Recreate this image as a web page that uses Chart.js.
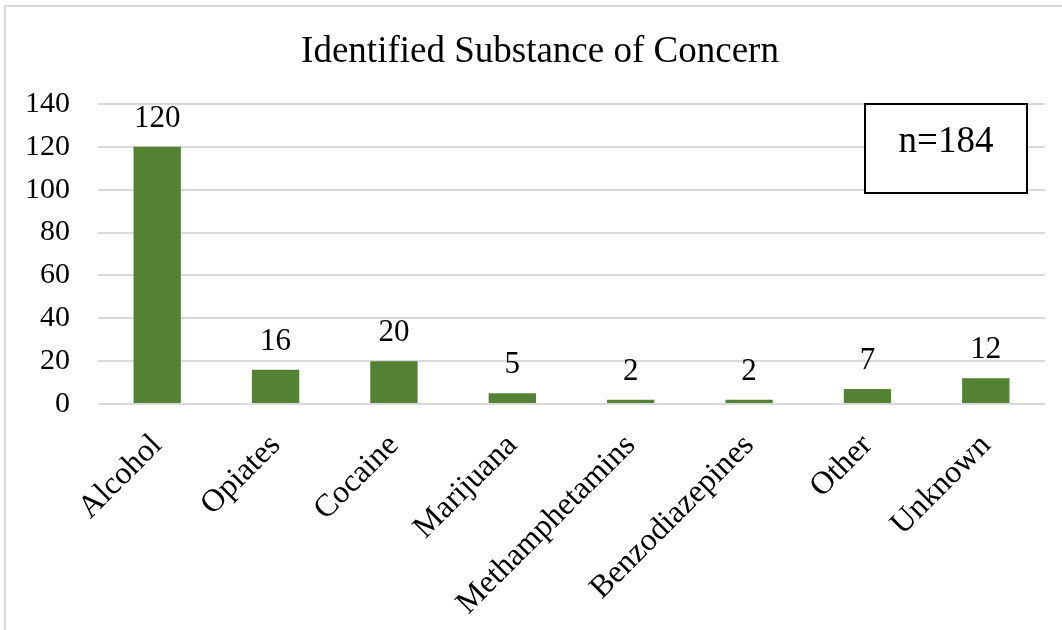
<!DOCTYPE html>
<html>
<head>
<meta charset="utf-8">
<script src="https://cdn.jsdelivr.net/npm/chart.js@4"></script>
<style>
  body { margin: 0; overflow: hidden; background: #fff; }
  #wrap { position: relative; width: 1062px; height: 630px; }
  #frame { position: absolute; left: 4px; top: 5px; width: 1070px; height: 640px; border: 2px solid #d9d9d9; }
</style>
</head>
<body>
<div id="wrap">
  <div id="frame"></div>
  <canvas id="newChart" width="1062" height="630"></canvas>
</div>
<script>
var categories = ['Alcohol', 'Opiates', 'Cocaine', 'Marijuana', 'Methamphetamins', 'Benzodiazepines', 'Other', 'Unknown'];
var substanceCounts = [120, 16, 20, 5, 2, 2, 7, 12];
var yTicks = [0, 20, 40, 60, 80, 100, 120, 140];
var chartTitle = 'Identified Substance of Concern';
var noteText = 'n=184';

var serif = '"Liberation Serif", "Times New Roman", serif';

// draws title, value labels and the n= box
var extrasPlugin = {
  id: 'extras',
  afterDraw: function(chart) {
    var ctx = chart.ctx;
    var area = chart.chartArea;
    ctx.save();
    ctx.fillStyle = '#000';
    // title, centred on the outer frame
    ctx.font = '37px ' + serif;
    ctx.textAlign = 'center';
    ctx.textBaseline = 'alphabetic';
    ctx.fillText(chartTitle, 540, 62);
    // value labels above bars
    ctx.font = '31px ' + serif;
    var meta = chart.getDatasetMeta(0);
    meta.data.forEach(function(bar, i) {
      ctx.fillText(String(substanceCounts[i]), bar.x, bar.y - 20);
    });
    // n box
    var bx = area.right - 180, by = area.top, bw = 162, bh = 89;
    ctx.fillStyle = '#fff';
    ctx.fillRect(bx, by, bw, bh);
    ctx.strokeStyle = '#000';
    ctx.lineWidth = 2;
    ctx.strokeRect(bx, by, bw, bh);
    ctx.fillStyle = '#000';
    ctx.font = '37px ' + serif;
    ctx.fillText(noteText, bx + bw / 2, by + 48);
    ctx.restore();
  }
};

var ctx = document.getElementById('newChart');
var myChart = new Chart(ctx, {
  type: 'bar',
  data: {
    labels: categories,
    datasets: [{
      data: substanceCounts,
      backgroundColor: '#548235',
      barPercentage: 0.4,
      categoryPercentage: 1
    }]
  },
  options: {
    responsive: false,
    animation: false,
    layout: { padding: { top: 104, right: 17, left: 0, bottom: 0 } },
    plugins: {
      legend: { display: false },
      title: { display: false },
      tooltip: { enabled: false }
    },
    scales: {
      x: {
        grid: { display: false },
        border: { display: false },
        ticks: {
          color: '#000',
          font: { family: serif, size: 32 },
          minRotation: 45,
          maxRotation: 45,
          padding: 15
        },
        afterFit: function(scale) { scale.height = 226; }
      },
      y: {
        min: 0,
        max: 140,
        border: { display: false },
        grid: { color: '#d9d9d9', lineWidth: 2, drawTicks: false },
        afterBuildTicks: function(scale) {
          scale.ticks = yTicks.map(function(v) { return { value: v }; });
        },
        ticks: {
          color: '#000',
          font: { family: serif, size: 30 },
          padding: 28
        },
        afterFit: function(scale) { scale.width = 98; }
      }
    }
  },
  plugins: [extrasPlugin]
});
</script>
</body>
</html>
